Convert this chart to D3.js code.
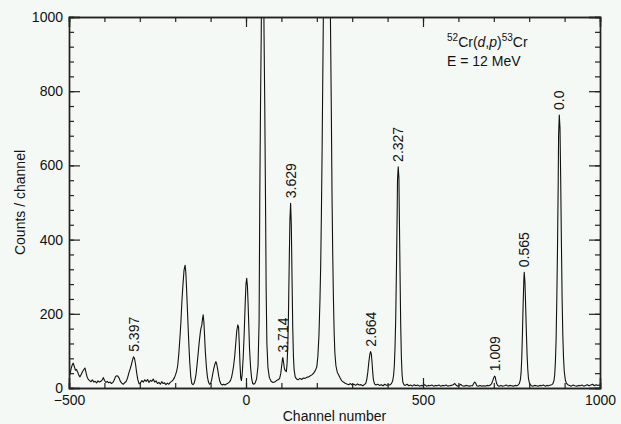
<!DOCTYPE html>
<html>
<head>
<meta charset="utf-8">
<script src="https://cdn.jsdelivr.net/npm/d3@7"></script>
<style>
  html, body { margin: 0; padding: 0; background: #f5f9f6; }
  svg { display: block; font-family: "Liberation Sans", Arial, sans-serif; }
  .axis text { font-size: 14px; fill: #111; }
  .axis path, .axis line { stroke: #222; }
</style>
</head>
<body>
<script>
// spectrum: [channel, counts]
var spectrum = [
  [-500,30],[-497,38],[-494,52],[-491,62],[-488,67],[-485,58],[-482,48],[-479,50],[-476,44],[-472,34],
  [-469,30],[-466,36],[-462,44],[-458,50],[-455,54],[-452,42],[-449,30],[-446,24],[-442,20],[-438,17],
  [-434,22],[-430,16],[-426,18],[-422,14],[-418,19],[-414,16],[-410,18],[-406,22],[-403,28],[-400,21],
  [-396,15],[-392,18],[-388,14],[-384,16],[-380,12],[-376,15],[-372,22],[-369,30],[-366,33],[-362,32],
  [-358,26],[-355,18],[-351,13],[-347,10],[-343,14],[-339,17],[-335,26],[-331,40],[-327,52],[-324,62],
  [-321,74],[-318,84],[-315,80],[-312,64],[-309,42],[-306,24],[-302,11],[-298,14],[-294,20],[-290,16],
  [-286,22],[-282,18],[-278,23],[-274,15],[-270,21],[-266,18],[-262,24],[-258,16],[-254,19],[-250,12],
  [-246,15],[-242,10],[-238,17],[-234,12],[-230,14],[-226,9],[-222,13],[-218,10],[-214,15],[-210,18],
  [-206,22],[-202,28],[-199,36],[-196,45],[-193,60],[-190,90],[-187,130],[-184,175],[-181,235],[-178,280],
  [-175,318],[-172,331],[-170,312],[-168,270],[-165,200],[-162,130],[-159,70],[-156,30],[-153,12],[-150,9],
  [-147,12],[-144,22],[-141,38],[-138,65],[-135,95],[-132,125],[-129,150],[-127,162],[-125,168],[-123,185],
  [-121,197],[-119,178],[-117,140],[-115,100],[-112,58],[-109,30],[-106,16],[-103,10],[-100,12],[-97,22],
  [-94,38],[-91,52],[-88,64],[-85,71],[-83,66],[-80,50],[-77,32],[-74,18],[-71,11],[-67,8],
  [-63,10],[-59,8],[-55,11],[-51,13],[-47,16],[-44,20],[-41,28],[-38,42],[-35,60],[-32,85],
  [-29,120],[-26,155],[-23,170],[-21,164],[-19,120],[-17,65],[-15,28],[-13,20],[-11,35],[-8,80],
  [-5,150],[-2,235],[0,280],[2,296],[4,275],[6,225],[8,165],[10,105],[13,55],[16,25],
  [19,12],[22,10],[26,14],[30,25],[34,60],[37,180],[39,520],[41,760],[43,950],[44,1080],
  [47,1400],[50,1080],[51,950],[53,760],[55,520],[57,260],[59,120],[62,55],[66,28],[71,18],
  [76,15],[81,16],[86,20],[91,22],[95,26],[98,38],[101,62],[103,78],[104,82],[106,70],
  [108,55],[110,48],[112,46],[114,44],[116,65],[118,110],[120,200],[122,330],[124,450],[126,498],
  [128,440],[130,300],[132,165],[134,85],[136,48],[139,30],[143,24],[147,22],[152,26],[157,23],
  [162,27],[167,26],[172,29],[177,30],[182,33],[187,36],[191,40],[194,44],[197,50],[200,57],
  [203,85],[206,140],[209,240],[211,330],[213,470],[215,640],[217,850],[219,1050],[222,1800],[228,3000],
  [234,1800],[237,1150],[239,950],[241,750],[243,520],[245,360],[247,240],[249,150],[251,95],[254,60],
  [258,42],[262,35],[266,27],[270,20],[275,16],[280,13],[285,11],[290,9],[295,12],[300,8],
  [305,10],[310,7],[315,11],[320,8],[325,9],[330,6],[334,9],[338,12],[341,22],[344,42],
  [347,70],[350,92],[352,98],[354,92],[356,70],[358,42],[360,22],[363,11],[367,8],[372,10],
  [377,7],[382,9],[387,6],[392,10],[397,7],[402,9],[406,8],[410,11],[414,18],[417,35],
  [419,60],[421,110],[423,190],[425,320],[427,470],[428,560],[430,596],[432,565],[433,480],[435,320],
  [437,170],[439,80],[441,35],[443,16],[446,9],[450,7],[455,10],[460,6],[465,8],[470,5],
  [475,9],[480,6],[485,8],[490,5],[495,7],[500,6],[505,9],[510,5],[515,7],[520,6],
  [525,8],[530,5],[535,7],[540,6],[545,8],[550,5],[555,7],[560,6],[565,8],[570,5],
  [575,6],[580,7],[585,9],[590,12],[593,8],[597,5],[602,7],[607,10],[611,6],[616,5],
  [621,7],[626,6],[631,5],[636,6],[640,6],[643,12],[646,16],[649,13],[652,6],[656,5],
  [661,7],[666,5],[671,6],[676,5],[681,7],[686,6],[690,8],[694,12],[697,20],[700,28],
  [702,32],[704,30],[706,20],[708,12],[711,7],[715,5],[720,7],[725,5],[730,6],[735,8],
  [740,5],[745,7],[750,6],[755,5],[760,7],[765,6],[769,8],[772,12],[775,22],[777,40],
  [779,80],[781,150],[783,230],[785,295],[786,312],[788,285],[790,220],[792,150],[794,90],[796,50],
  [798,25],[801,12],[805,7],[810,5],[815,7],[820,6],[825,5],[830,7],[835,6],[840,8],
  [845,5],[850,7],[855,6],[860,8],[864,9],[867,12],[870,20],[872,35],[874,70],[876,130],
  [878,240],[880,380],[882,560],[883,680],[885,736],[887,700],[889,560],[891,390],[893,240],[895,140],
  [897,80],[899,45],[902,22],[905,13],[909,9],[914,7],[919,5],[924,8],[929,6],[934,5],
  [939,7],[944,6],[949,8],[954,5],[959,7],[964,9],[969,6],[974,8],[979,10],[984,6],
  [989,9],[994,7],[1000,8]
];

// excitation energies (MeV) and the channel of their peak
var levelLabels = ["5.397", "3.714", "3.629", "2.664", "2.327", "1.009", "0.565", "0.0"];
var levelChannels = [-316, 104, 126, 352, 430, 703, 786, 885];

var xMajor = [-500, 0, 500, 1000];
var xMinor = d3.range(-500, 1001, 100);
var yMajor = [0, 200, 400, 600, 800, 1000];
var yMinor = d3.range(0, 1001, 40);

var svgWidth = 621, svgHeight = 424;
var margin = {top: 17, right: 21, bottom: 36, left: 69};
var width = svgWidth - margin.left - margin.right;
var height = svgHeight - margin.top - margin.bottom;

var svg = d3.select("body").append("svg")
  .attr("width", svgWidth)
  .attr("height", svgHeight);

var chart = svg.append("g")
  .attr("transform", "translate(" + margin.left + "," + margin.top + ")");

var x = d3.scaleLinear().domain([-500, 1000]).range([0, width]);
var y = d3.scaleLinear().domain([0, 1000]).range([height, 0]);

chart.append("clipPath").attr("id", "plotclip")
  .append("rect").attr("width", width).attr("height", height);

// spectrum
var line = d3.line().x(d => x(d[0])).y(d => y(d[1]));
chart.append("path")
  .datum(spectrum)
  .attr("clip-path", "url(#plotclip)")
  .attr("fill", "none")
  .attr("stroke", "#111")
  .attr("stroke-width", 1.1)
  .attr("stroke-linejoin", "round")
  .attr("d", line);

// axes, ticks pointing inward on all four sides
function addAxis(axis, transform) {
  var g = chart.append("g").attr("class", "axis").attr("transform", transform).call(axis);
  g.select(".domain").attr("stroke-width", 1.4);
  g.selectAll(".tick line").attr("stroke-width", 1.2);
  return g;
}
addAxis(d3.axisBottom(x).tickValues(xMinor).tickSize(-5).tickFormat(""), "translate(0," + height + ")");
addAxis(d3.axisBottom(x).tickValues(xMajor).tickSize(-10).tickPadding(7).tickFormat(d3.format("d")), "translate(0," + height + ")");
addAxis(d3.axisTop(x).tickValues(xMinor).tickSize(-5).tickFormat(""), "translate(0,0)");
addAxis(d3.axisTop(x).tickValues(xMajor).tickSize(-10).tickFormat(""), "translate(0,0)");
addAxis(d3.axisLeft(y).tickValues(yMinor).tickSize(-5).tickFormat(""), "translate(0,0)");
addAxis(d3.axisLeft(y).tickValues(yMajor).tickSize(-11).tickPadding(6).tickFormat(d3.format("d")), "translate(0,0)");
addAxis(d3.axisRight(y).tickValues(yMinor).tickSize(-5).tickFormat(""), "translate(" + width + ",0)");
addAxis(d3.axisRight(y).tickValues(yMajor).tickSize(-11).tickFormat(""), "translate(" + width + ",0)");

// level labels just above each peak top
levelLabels.forEach(function(lab, i) {
  var ch = levelChannels[i];
  var top = d3.max(spectrum.filter(d => Math.abs(d[0] - ch) <= 4), d => d[1]);
  chart.append("text")
    .attr("transform", "translate(" + x(ch) + "," + (y(top) - 5) + ") rotate(-90)")
    .attr("dy", "0.35em")
    .attr("font-size", 14)
    .attr("fill", "#111")
    .text(lab);
});

// axis titles
svg.append("text")
  .attr("x", margin.left + width / 2)
  .attr("y", 421)
  .attr("text-anchor", "middle")
  .attr("font-size", 14)
  .attr("fill", "#111")
  .text("Channel number");

svg.append("text")
  .attr("transform", "translate(25," + (margin.top + height / 2) + ") rotate(-90)")
  .attr("text-anchor", "middle")
  .attr("font-size", 14)
  .attr("fill", "#111")
  .text("Counts / channel");

// reaction annotation
var note = svg.append("text").attr("x", 447).attr("y", 47).attr("font-size", 14).attr("fill", "#111");
note.append("tspan").attr("font-size", 10).attr("dy", -6).text("52");
note.append("tspan").attr("dy", 6).text("Cr(");
note.append("tspan").attr("font-style", "italic").text("d");
note.append("tspan").text(",");
note.append("tspan").attr("font-style", "italic").text("p");
note.append("tspan").text(")");
note.append("tspan").attr("font-size", 10).attr("dy", -6).text("53");
note.append("tspan").attr("dy", 6).text("Cr");

svg.append("text")
  .attr("x", 447).attr("y", 66)
  .attr("font-size", 14)
  .attr("fill", "#111")
  .text("E = 12 MeV");
</script>
</body>
</html>
